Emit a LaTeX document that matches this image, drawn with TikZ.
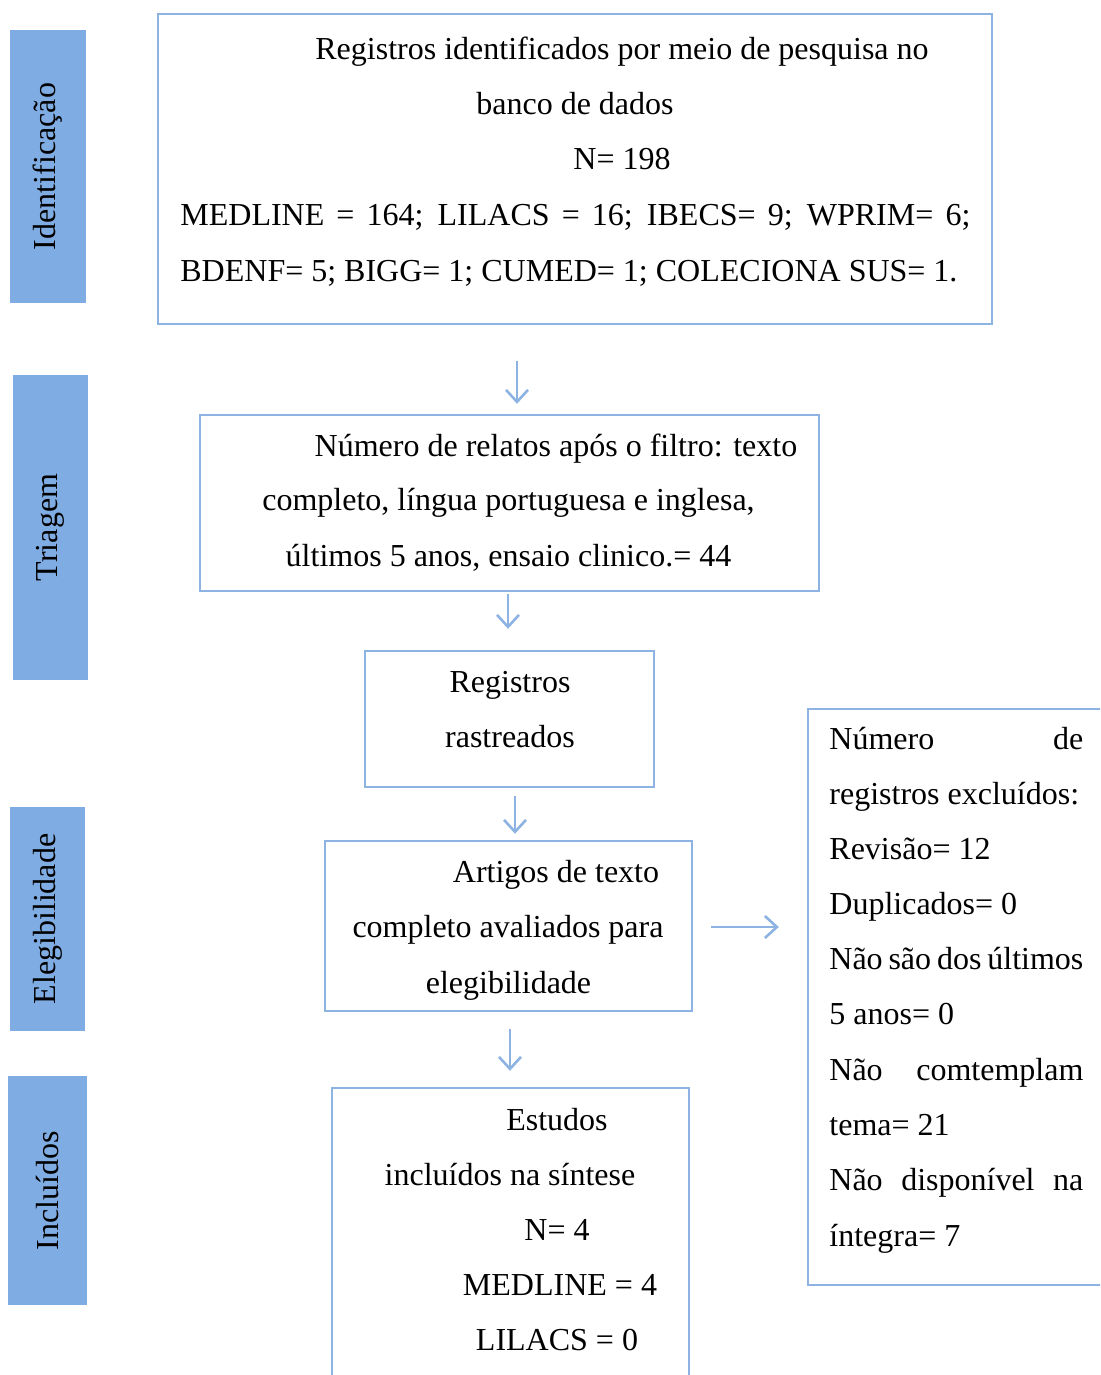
\documentclass[tikz,border=0pt]{standalone}
\usepackage{fontspec}
\setmainfont{Liberation Serif}
\usepackage{tikz}
\usetikzlibrary{arrows.meta}
\definecolor{boxblue}{RGB}{141,179,226}
\definecolor{barblue}{RGB}{127,172,227}
\tikzstyle{box} = [draw=boxblue, line width=1.2pt, rectangle, inner sep=0pt]
\tikzstyle{bar} = [fill=barblue, rectangle, inner sep=0pt, rotate=90]
\tikzstyle{txt} = [anchor=base, inner sep=0pt]
\tikzstyle{ltxt} = [anchor=base west, inner sep=0pt]
\tikzstyle{arrow} = [draw=boxblue, line width=1.3pt, -{Straight Barb[length=6pt,width=11pt]}]
\newcommand{\jline}[2]{\makebox[#1][s]{#2}}

\begin{document}
\begin{tikzpicture}[x=0.5pt, y=-0.5pt, font=\fontsize{16}{19}\selectfont]
            \useasboundingbox (0,0) rectangle (1100,1375);
            \clip (0,0) rectangle (1100,1375);

            % side bars
            \node (barid) [bar, minimum width=136.5pt, minimum height=38pt] at (48,166.5) {Identificação};
            \node (bartri) [bar, minimum width=152.5pt, minimum height=37.5pt] at (50.5,527.5) {Triagem};
            \node (barele) [bar, minimum width=112pt, minimum height=37.5pt] at (47.5,919) {Elegibilidade};
            \node (barinc) [bar, minimum width=114.5pt, minimum height=39.5pt] at (47.5,1190.5) {Incluídos};

            % boxes
            \node (ident) [box, minimum width=417pt, minimum height=155pt] at (575,169) {};
            \node (filtro) [box, minimum width=309.5pt, minimum height=88pt] at (509.5,503) {};
            \node (rastr) [box, minimum width=144.5pt, minimum height=68pt] at (509.5,719) {};
            \node (eleg) [box, minimum width=183.5pt, minimum height=85pt] at (508.5,926) {};
            \node (excl) [box, minimum width=151pt, minimum height=288pt] at (959,997) {};
            \node (incl) [box, minimum width=178.5pt, minimum height=156pt] at (510.5,1244) {};

            % texts
            \node (id1) [txt] at (622,60) {Registros identificados por meio de pesquisa no};
            \node (id2) [txt] at (575,115) {banco de dados};
            \node (id3) [txt] at (622,170) {N= 198};
            \node (id4) [ltxt] at (180,226) {\jline{395pt}{MEDLINE = 164; LILACS = 16; IBECS= 9; WPRIM= 6;}};
            \node (id5) [ltxt] at (180,281) {BDENF= 5; BIGG= 1; CUMED= 1; COLECIONA SUS= 1.};

            \node (fi1) [txt] at (556,456) {Número de relatos após o filtro: texto};
            \node (fi2) [txt] at (508.5,510) {completo, língua portuguesa e inglesa,};
            \node (fi3) [txt] at (508.5,566) {últimos 5 anos, ensaio clinico.= 44};

            \node (ra1) [txt] at (510,692) {Registros};
            \node (ra2) [txt] at (510,747) {rastreados};

            \node (el1) [txt] at (556,882) {Artigos de texto};
            \node (el2) [txt] at (508,937) {completo avaliados para};
            \node (el3) [txt] at (508.5,993) {elegibilidade};

            \node (ex1) [ltxt] at (829,749) {\jline{127pt}{Número de}};
            \node (ex2) [ltxt] at (829,804) {registros excluídos:};
            \node (ex3) [ltxt] at (829,859) {Revisão= 12};
            \node (ex4) [ltxt] at (829,914) {Duplicados= 0};
            \node (ex5) [ltxt] at (829,969) {\jline{127pt}{Não são dos últimos}};
            \node (ex6) [ltxt] at (829,1024) {5 anos= 0};
            \node (ex7) [ltxt] at (829,1080) {\jline{127pt}{Não comtemplam}};
            \node (ex8) [ltxt] at (829,1135) {tema= 21};
            \node (ex9) [ltxt] at (829,1190) {\jline{127pt}{Não disponível na}};
            \node (ex10) [ltxt] at (829,1246) {íntegra= 7};

            \node (in1) [txt] at (557,1130) {Estudos};
            \node (in2) [txt] at (510,1185) {incluídos na síntese};
            \node (in3) [txt] at (557,1240) {N= 4};
            \node (in4) [txt] at (560,1295) {MEDLINE = 4};
            \node (in5) [txt] at (557,1350) {LILACS = 0};

            % arrows
            \coordinate (c1) at (517,0);
            \coordinate (c2) at (508,0);
            \coordinate (c3) at (515,0);
            \coordinate (c4) at (0,927);
            \coordinate (c5) at (510,0);
            \draw[arrow, shorten <=18pt, shorten >=5pt] (ident.south -| c1) -- (filtro.north -| c1);
            \draw[arrow, shorten <=1pt, shorten >=10.5pt] (filtro.south -| c2) -- (rastr.north -| c2);
            \draw[arrow, shorten <=4pt, shorten >=3pt] (rastr.south -| c3) -- (eleg.north -| c3);
            \draw[arrow, shorten <=9pt, shorten >=14pt] (eleg.east |- c4) -- (excl.west |- c4);
            \draw[arrow, shorten <=8.5pt, shorten >=8pt] (eleg.south -| c5) -- (incl.north -| c5);
        \end{tikzpicture}
\end{document}
